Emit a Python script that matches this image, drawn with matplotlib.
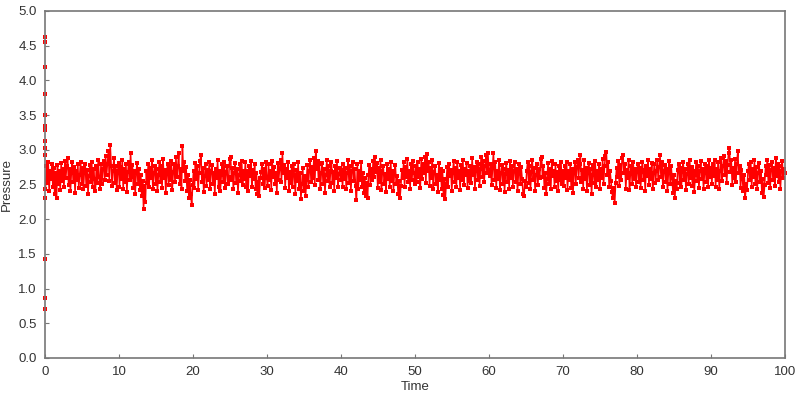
import numpy as np
import matplotlib.pyplot as plt
from matplotlib.ticker import FormatStrFormatter

# startup transient, all within the first instants of the run
start_time = [0.0, 0.004, 0.008, 0.012, 0.016, 0.020, 0.024, 0.028, 0.032, 0.036, 0.040, 0.044, 0.048, 0.052]
start_pressure = [4.62, 4.55, 4.20, 3.80, 3.50, 3.35, 3.28, 3.13, 3.03, 2.92, 1.43, 0.87, 0.70, 2.30]

# pressure readings, one list per 10 time units
p_00 = [2.44, 2.76, 2.52, 2.83, 2.41, 2.70, 2.58, 2.80, 2.47, 2.74, 2.36, 2.66, 2.31, 2.78, 2.50, 2.69, 2.42, 2.81, 2.55, 2.73,
        2.46, 2.84, 2.60, 2.77, 2.88, 2.49, 2.72, 2.40, 2.67, 2.82, 2.53, 2.75, 2.38, 2.70, 2.56, 2.79, 2.45, 2.64, 2.83, 2.51,
        2.74, 2.43, 2.68, 2.80, 2.48, 2.71, 2.37, 2.62, 2.78, 2.54, 2.82, 2.46, 2.73, 2.58, 2.40, 2.76, 2.52, 2.85, 2.61, 2.44,
        2.79, 2.50, 2.72, 2.84, 2.57, 2.91, 2.63, 2.80, 2.98, 2.55, 3.07, 2.76, 2.48, 2.70, 2.88, 2.52, 2.77, 2.42, 2.69, 2.81]
p_10 = [2.47, 2.75, 2.58, 2.86, 2.44, 2.72, 2.53, 2.80, 2.39, 2.68, 2.83, 2.56, 2.95, 2.61, 2.78, 2.45, 2.70, 2.37, 2.66, 2.81,
        2.50, 2.73, 2.42, 2.64, 2.33, 2.55, 2.15, 2.48, 2.25, 2.69, 2.52, 2.79, 2.46, 2.74, 2.59, 2.85, 2.43, 2.67, 2.77, 2.51,
        2.72, 2.40, 2.63, 2.82, 2.54, 2.76, 2.45, 2.87, 2.60, 2.71, 2.38, 2.65, 2.80, 2.49, 2.74, 2.57, 2.84, 2.42, 2.68, 2.79,
        2.53, 2.89, 2.61, 2.76, 2.95, 2.50, 2.73, 2.44, 3.05, 2.69, 2.82, 2.55, 2.75, 2.41, 2.64, 2.30, 2.57, 2.36, 2.20, 2.49]
p_20 = [2.70, 2.45, 2.81, 2.58, 2.76, 2.42, 2.67, 2.84, 2.92, 2.53, 2.74, 2.39, 2.62, 2.80, 2.48, 2.71, 2.56, 2.83, 2.44, 2.69,
        2.78, 2.51, 2.66, 2.36, 2.73, 2.59, 2.85, 2.47, 2.70, 2.41, 2.64, 2.79, 2.54, 2.82, 2.45, 2.68, 2.76, 2.50, 2.61, 2.87,
        2.90, 2.57, 2.74, 2.43, 2.67, 2.81, 2.52, 2.72, 2.38, 2.63, 2.79, 2.55, 2.84, 2.49, 2.70, 2.58, 2.83, 2.46, 2.69, 2.40,
        2.77, 2.62, 2.84, 2.47, 2.71, 2.58, 2.80, 2.44, 2.66, 2.36, 2.53, 2.33, 2.59, 2.68, 2.79, 2.51, 2.72, 2.45, 2.82, 2.60]
p_30 = [2.48, 2.79, 2.56, 2.70, 2.42, 2.84, 2.61, 2.75, 2.50, 2.67, 2.38, 2.81, 2.57, 2.73, 2.86, 2.54, 2.95, 2.66, 2.78, 2.45,
        2.72, 2.59, 2.83, 2.41, 2.68, 2.52, 2.77, 2.46, 2.80, 2.63, 2.37, 2.71, 2.55, 2.82, 2.44, 2.67, 2.29, 2.51, 2.74, 2.40,
        2.62, 2.33, 2.56, 2.78, 2.47, 2.69, 2.85, 2.53, 2.75, 2.60, 2.88, 2.49, 2.98, 2.72, 2.84, 2.57, 2.79, 2.43, 2.66, 2.81,
        2.50, 2.73, 2.38, 2.64, 2.86, 2.55, 2.76, 2.46, 2.70, 2.83, 2.52, 2.68, 2.41, 2.77, 2.59, 2.84, 2.47, 2.65, 2.74, 2.56]
p_40 = [2.71, 2.46, 2.80, 2.58, 2.74, 2.43, 2.67, 2.85, 2.52, 2.76, 2.40, 2.69, 2.82, 2.55, 2.73, 2.48, 2.27, 2.79, 2.44, 2.70,
        2.57, 2.83, 2.47, 2.66, 2.38, 2.60, 2.34, 2.52, 2.31, 2.64, 2.78, 2.49, 2.72, 2.56, 2.84, 2.61, 2.90, 2.68, 2.81, 2.45,
        2.74, 2.53, 2.86, 2.42, 2.69, 2.77, 2.50, 2.65, 2.39, 2.80, 2.58, 2.73, 2.46, 2.83, 2.55, 2.70, 2.41, 2.67, 2.78, 2.51,
        2.62, 2.37, 2.55, 2.30, 2.48, 2.71, 2.59, 2.82, 2.47, 2.75, 2.61, 2.87, 2.53, 2.69, 2.44, 2.79, 2.57, 2.84, 2.66, 2.50]
p_50 = [2.76, 2.54, 2.83, 2.61, 2.72, 2.45, 2.87, 2.58, 2.79, 2.66, 2.90, 2.52, 2.94, 2.70, 2.82, 2.48, 2.74, 2.60, 2.85, 2.43,
        2.68, 2.77, 2.50, 2.64, 2.39, 2.81, 2.56, 2.73, 2.44, 2.69, 2.35, 2.58, 2.29, 2.51, 2.75, 2.46, 2.80, 2.62, 2.71, 2.40,
        2.67, 2.84, 2.53, 2.74, 2.47, 2.82, 2.60, 2.70, 2.42, 2.78, 2.57, 2.86, 2.49, 2.72, 2.63, 2.81, 2.45, 2.69, 2.55, 2.77,
        2.52, 2.88, 2.64, 2.75, 2.43, 2.70, 2.83, 2.56, 2.79, 2.48, 2.73, 2.90, 2.61, 2.84, 2.54, 2.76, 2.92, 2.66, 2.96, 2.71]
p_60 = [2.62, 2.80, 2.49, 2.74, 2.96, 2.57, 2.83, 2.45, 2.70, 2.58, 2.86, 2.42, 2.67, 2.78, 2.51, 2.73, 2.39, 2.65, 2.81, 2.54,
        2.71, 2.44, 2.84, 2.60, 2.76, 2.47, 2.69, 2.82, 2.53, 2.72, 2.40, 2.66, 2.79, 2.50, 2.75, 2.58, 2.37, 2.33, 2.55, 2.46,
        2.70, 2.83, 2.52, 2.77, 2.43, 2.68, 2.85, 2.56, 2.74, 2.41, 2.63, 2.80, 2.49, 2.72, 2.59, 2.87, 2.90, 2.61, 2.76, 2.45,
        2.67, 2.36, 2.58, 2.81, 2.50, 2.73, 2.44, 2.84, 2.62, 2.70, 2.47, 2.79, 2.55, 2.68, 2.40, 2.76, 2.57, 2.83, 2.51, 2.69]
p_70 = [2.48, 2.77, 2.59, 2.83, 2.42, 2.70, 2.56, 2.80, 2.45, 2.73, 2.38, 2.66, 2.82, 2.51, 2.75, 2.86, 2.60, 2.79, 2.93, 2.54,
        2.71, 2.44, 2.85, 2.58, 2.74, 2.40, 2.68, 2.81, 2.49, 2.72, 2.36, 2.63, 2.78, 2.52, 2.84, 2.46, 2.69, 2.57, 2.80, 2.43,
        2.73, 2.60, 2.87, 2.50, 2.76, 2.91, 2.97, 2.64, 2.82, 2.47, 2.70, 2.55, 2.39, 2.31, 2.45, 2.23, 2.52, 2.74, 2.61, 2.84,
        2.48, 2.78, 2.56, 2.88, 2.93, 2.66, 2.80, 2.44, 2.71, 2.59, 2.85, 2.42, 2.67, 2.76, 2.50, 2.82, 2.58, 2.73, 2.46, 2.69]
p_80 = [2.80, 2.53, 2.74, 2.45, 2.68, 2.83, 2.57, 2.71, 2.40, 2.77, 2.62, 2.85, 2.49, 2.73, 2.58, 2.81, 2.44, 2.67, 2.79, 2.52,
        2.70, 2.86, 2.56, 2.75, 2.92, 2.61, 2.82, 2.47, 2.69, 2.78, 2.54, 2.72, 2.41, 2.66, 2.84, 2.50, 2.76, 2.59, 2.38, 2.63,
        2.30, 2.55, 2.43, 2.71, 2.80, 2.52, 2.74, 2.46, 2.68, 2.83, 2.57, 2.73, 2.42, 2.65, 2.79, 2.51, 2.86, 2.60, 2.75, 2.48,
        2.70, 2.39, 2.64, 2.82, 2.55, 2.77, 2.45, 2.69, 2.84, 2.58, 2.72, 2.43, 2.67, 2.80, 2.53, 2.76, 2.47, 2.85, 2.61, 2.74]
p_90 = [2.50, 2.79, 2.62, 2.86, 2.46, 2.73, 2.57, 2.82, 2.43, 2.70, 2.88, 2.55, 2.76, 2.91, 2.64, 2.84, 2.52, 2.78, 2.95, 3.02,
        2.68, 2.85, 2.49, 2.74, 2.60, 2.87, 2.54, 2.80, 2.98, 2.66, 2.77, 2.45, 2.71, 2.58, 2.40, 2.63, 2.30, 2.51, 2.42, 2.69,
        2.79, 2.56, 2.83, 2.47, 2.72, 2.61, 2.85, 2.50, 2.75, 2.44, 2.67, 2.81, 2.53, 2.70, 2.38, 2.58, 2.32, 2.49, 2.76, 2.64,
        2.86, 2.52, 2.78, 2.45, 2.71, 2.83, 2.57, 2.74, 2.48, 2.88, 2.62, 2.80, 2.54, 2.76, 2.43, 2.69, 2.84, 2.59, 2.73, 2.66]

t_start, t_end = 0.06, 100.0
x_ticks = [0, 10, 20, 30, 40, 50, 60, 70, 80, 90, 100]
y_ticks = [0.0, 0.5, 1.0, 1.5, 2.0, 2.5, 3.0, 3.5, 4.0, 4.5, 5.0]


def main():
    pressure = np.concatenate([p_00, p_10, p_20, p_30, p_40, p_50, p_60, p_70, p_80, p_90])
    time = np.linspace(t_start, t_end, len(pressure))

    plt.rcParams['font.family'] = ['Liberation Sans', 'DejaVu Sans']
    fig = plt.figure(figsize=(8, 4.03), dpi=100)
    ax = fig.add_axes([45 / 800, 1 - 358 / 403, 740 / 800, 347 / 403])

    ax.plot(time, pressure, color='#ff0000', lw=1.1, marker='s', markersize=2.3,
            markeredgewidth=0, clip_on=False)
    ax.plot(start_time, start_pressure, linestyle='none', color='#ff0000', marker='s',
            markersize=2.4, markeredgewidth=0, clip_on=False)

    ax.set_xlim(0, 100)
    ax.set_ylim(0, 5)
    ax.set_xticks(x_ticks)
    ax.set_yticks(y_ticks)
    ax.yaxis.set_major_formatter(FormatStrFormatter('%.1f'))
    ax.tick_params(direction='in', length=3, color='#777777', labelcolor='#333333',
                   labelsize=9.5, pad=6)
    for spine in ax.spines.values():
        spine.set_color('#777777')
        spine.set_linewidth(1.2)
    ax.set_xlabel('Time', fontsize=9.5, color='#333333', labelpad=2)
    ax.set_ylabel('Pressure', fontsize=9.5, color='#333333', labelpad=4)

    fig.savefig('out.png', dpi=100)


if __name__ == '__main__':
    main()
